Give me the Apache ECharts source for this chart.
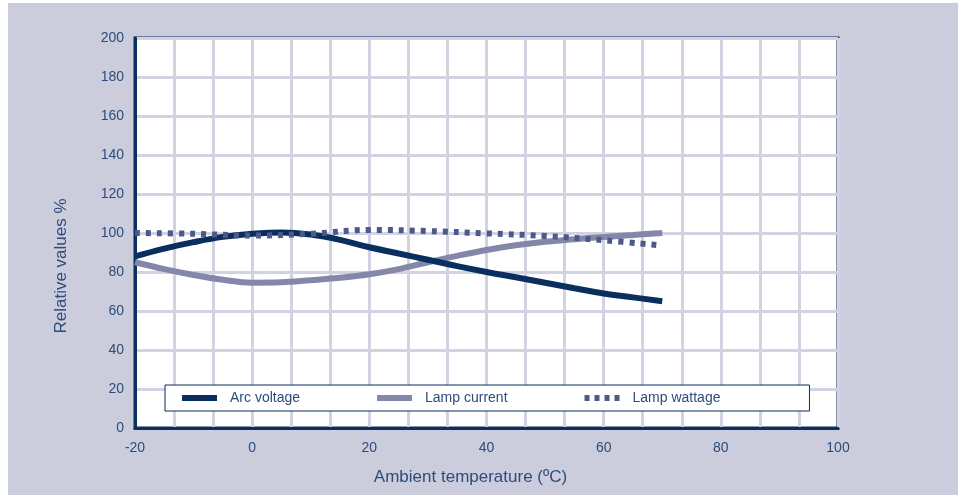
<!DOCTYPE html>
<html>
<head>
<meta charset="utf-8">
<script src="https://cdn.jsdelivr.net/npm/echarts@6/dist/echarts.min.js"></script>
<style>
html,body{margin:0;padding:0;background:#ffffff;width:958px;height:495px;overflow:hidden;}
#chart{position:absolute;left:8px;top:3px;width:950px;height:492px;}
</style>
</head>
<body>
<div id="chart"></div>
<script>
// Data
var temperatures = [-20, -15, -10, -5, 0, 5, 10, 15, 20, 25, 30, 35, 40, 45, 50, 55, 60, 65, 70];
var arcVoltage   = [88, 92, 95.3, 98, 99.6, 100.3, 99.2, 96.5, 92.7, 89.5, 86.3, 83, 80, 77.3, 74.5, 71.7, 69, 67, 65];
var lampCurrent  = [85, 81.5, 78.5, 76, 74.5, 74.7, 75.8, 77, 78.8, 81.5, 85, 88.3, 91.3, 93.7, 95.5, 96.8, 98, 99, 100];
var wattTemps    = [-20, -10, 0, 10, 20, 30, 40, 50, 60, 70];
var lampWattage  = [100, 99.6, 98.7, 99.6, 101.6, 101, 99.8, 98.5, 96.3, 93.6];
var seriesNames  = ['Arc voltage', 'Lamp current', 'Lamp wattage'];
var xTicks = [-20, 0, 20, 40, 60, 80, 100];
var yTicks = [0, 20, 40, 60, 80, 100, 120, 140, 160, 180, 200];

function pairs(xs, ys) { return xs.map(function (x, i) { return [x, ys[i]]; }); }

var textColor = '#2d4c7c';
var navy = '#0b2f5f';
var gridColor = '#d2d2e2';
var fontFam = 'Liberation Sans, Arial, sans-serif';
var colArc = '#0a2f5f', colCur = '#8487aa', colWatt = '#4d5a89';

var chart = echarts.init(document.getElementById('chart'), null, {renderer: 'canvas'});
chart.setOption({
  backgroundColor: '#cbcddc',
  animation: false,
  grid: {
    left: 127, right: 120, top: 35, bottom: 67,
    show: true, backgroundColor: '#ffffff', borderColor: navy, borderWidth: 3
  },
  legend: {
    left: 157, top: 382,
    data: [
      {name: seriesNames[0], icon: 'rect', itemStyle: {color: colArc}},
      {name: seriesNames[1], icon: 'rect', itemStyle: {color: colCur}},
      {name: seriesNames[2], icon: 'path://M0,0h5v6h-5z M10,0h5v6h-5z M20,0h5v6h-5z M30,0h5v6h-5z', itemStyle: {color: colWatt}}
    ],
    itemWidth: 35, itemHeight: 6, itemGap: 77,
    padding: [6, 89, 6, 17],
    backgroundColor: '#ffffff', borderColor: navy, borderWidth: 1,
    textStyle: {color: textColor, fontSize: 14, fontFamily: fontFam, padding: [0, 0, 0, 8]}
  },
  xAxis: {
    type: 'value', min: xTicks[0], max: xTicks[xTicks.length - 1], interval: 20,
    name: 'Ambient temperature (ºC)', nameLocation: 'middle', nameGap: 41,
    nameTextStyle: {color: textColor, fontSize: 17, fontFamily: fontFam, padding: [0, 32, 0, 0]},
    axisLine: {show: true, onZero: false, lineStyle: {color: navy, width: 3}},
    axisTick: {show: false},
    minorTick: {show: false, splitNumber: 3},
    axisLabel: {color: textColor, fontSize: 14, fontFamily: fontFam, margin: 13},
    splitLine: {show: true, lineStyle: {color: gridColor, width: 3}},
    minorSplitLine: {show: true, lineStyle: {color: gridColor, width: 3}}
  },
  yAxis: {
    type: 'value', min: yTicks[0], max: yTicks[yTicks.length - 1], interval: 20,
    name: 'Relative values %', nameLocation: 'middle', nameGap: 65,
    nameTextStyle: {color: textColor, fontSize: 17, fontFamily: fontFam, padding: [0, 66, 0, 0]},
    axisLine: {show: true, onZero: false, lineStyle: {color: navy, width: 3}},
    axisTick: {show: false},
    axisLabel: {color: textColor, fontSize: 14, fontFamily: fontFam, margin: 11},
    splitLine: {show: true, lineStyle: {color: gridColor, width: 3}}
  },
  series: [
    {
      name: seriesNames[0], type: 'line', smooth: 0.4, symbol: 'none',
      data: pairs(temperatures, arcVoltage),
      lineStyle: {color: colArc, width: 6},
      itemStyle: {color: colArc}, z: 3
    },
    {
      name: seriesNames[1], type: 'line', smooth: 0.4, symbol: 'none',
      data: pairs(temperatures, lampCurrent),
      lineStyle: {color: colCur, width: 6},
      itemStyle: {color: colCur}, z: 2
    },
    {
      name: seriesNames[2], type: 'line', smooth: 0.4, symbol: 'none',
      data: pairs(wattTemps, lampWattage),
      lineStyle: {color: colWatt, width: 6, type: [5, 6], cap: 'butt'},
      itemStyle: {color: colWatt}, z: 4
    }
  ]
});
</script>
</body>
</html>
